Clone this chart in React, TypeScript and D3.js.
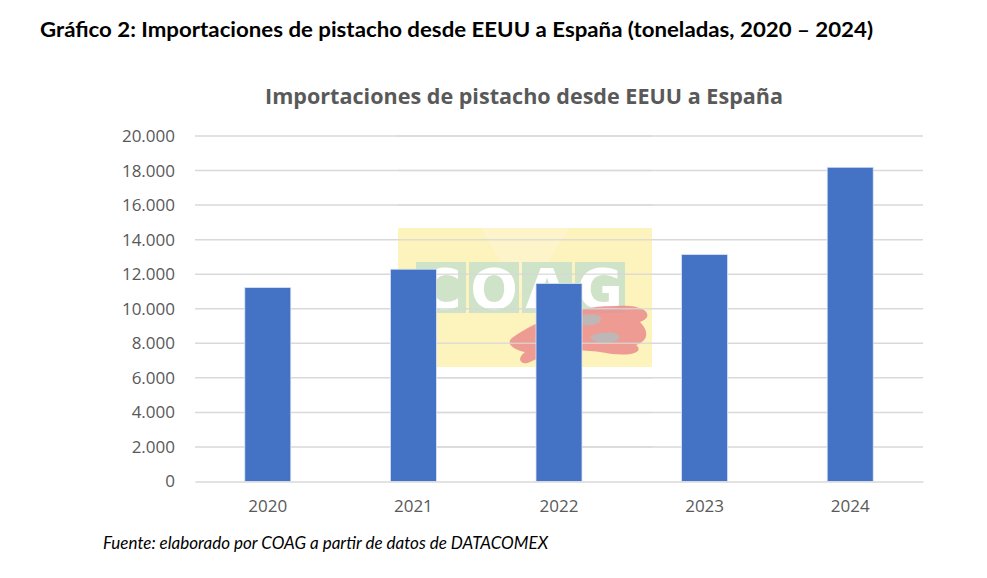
import React from 'react';
import { scaleBand, scaleLinear, select, axisLeft, axisBottom, format } from 'd3';

const years = ['2020', '2021', '2022', '2023', '2024'];
const toneladas = [11230, 12290, 11460, 13140, 18190];
const yTicks = [0, 2000, 4000, 6000, 8000, 10000, 12000, 14000, 16000, 18000, 20000];
const logoLetters = ['C', 'O', 'A', 'G'];

const dims = {
  width: 987,
  height: 578,
  left: 195,
  right: 923,
  top: 136,
  bottom: 481.5,
};

const fmt = (d: number) => format(',')(d).replace(/,/g, '.');

const App: React.FC = () => {
  const svgRef = React.useRef<SVGSVGElement>(null);

  const x = scaleBand()
    .domain(years)
    .range([dims.left, dims.right])
    .paddingInner(0.684)
    .paddingOuter(0.342);

  const y = scaleLinear().domain([0, 20000]).range([dims.bottom, dims.top]);

  React.useEffect(() => {
    const svg = select(svgRef.current);
    svg.selectAll('*').remove();

    // gridlines
    svg
      .append('g')
      .selectAll('line')
      .data(yTicks.filter(t => t > 0))
      .join('line')
      .attr('x1', dims.left)
      .attr('x2', dims.right)
      .attr('y1', d => y(d))
      .attr('y2', d => y(d))
      .attr('stroke', '#d9d9d9')
      .attr('stroke-width', 1.5);

    // watermark logo (COAG)
    const logo = svg.append('g').attr('opacity', 0.9);
    logo.append('rect').attr('x', 398).attr('y', 228).attr('width', 254).attr('height', 139).attr('fill', '#fdf4c4');
    logo.append('path').attr('d', 'M398,228 L480,228 L525,300 L570,228 L652,228 L652,367 L398,367 Z').attr('fill', '#fcefa8').attr('opacity', 0.5);
    const lg = logo.append('g');
    lg.selectAll('rect')
      .data(logoLetters)
      .join('rect')
      .attr('x', (_, i) => 416 + i * 53)
      .attr('y', 262)
      .attr('width', 50)
      .attr('height', 51)
      .attr('fill', '#c9e1c1');
    lg.selectAll('text')
      .data(logoLetters)
      .join('text')
      .attr('x', (_, i) => 441 + i * 53)
      .attr('y', 308)
      .attr('text-anchor', 'middle')
      .attr('font-family', 'DejaVu Sans, sans-serif')
      .attr('font-weight', 'bold')
      .attr('font-size', 56)
      .attr('fill', '#ffffff')
      .text(d => d);
    logo
      .append('path')
      .attr('d', 'M512,338 C540,318 580,304 630,306 C650,308 652,318 640,322 C648,330 650,340 636,345 C645,352 630,358 600,352 C570,348 550,352 530,362 C522,366 515,360 525,352 C515,350 505,344 512,338 Z')
      .attr('fill', '#e98080')
      .attr('opacity', 0.85);
    logo
      .append('path')
      .attr('d', 'M575,318 C590,312 605,314 600,322 C590,328 578,326 575,318 Z M590,336 C605,330 625,332 618,340 C605,345 592,343 590,336 Z')
      .attr('fill', '#b8b0b0');

    // gridlines over the logo region
    svg
      .append('g')
      .selectAll('line')
      .data(yTicks.filter(t => t > 0))
      .join('line')
      .attr('x1', 398)
      .attr('x2', 652)
      .attr('y1', d => y(d))
      .attr('y2', d => y(d))
      .attr('stroke', '#d9d9d9')
      .attr('stroke-width', 1.5)
      .attr('opacity', 0.8);

    // bars
    svg
      .append('g')
      .selectAll('rect')
      .data(years.map((yr, i) => ({ yr, v: toneladas[i] })))
      .join('rect')
      .attr('x', d => x(d.yr)!)
      .attr('y', d => y(d.v))
      .attr('width', x.bandwidth())
      .attr('height', d => y(0) - y(d.v))
      .attr('fill', '#4472c4')
      .attr('stroke', '#dbe4f5')
      .attr('stroke-width', 0.8);

    // y axis
    const yAxis = axisLeft(y).tickValues(yTicks).tickSize(0).tickPadding(20).tickFormat(d => fmt(d as number));
    const yg = svg.append('g').attr('transform', `translate(${dims.left},0)`).call(yAxis);
    yg.select('.domain').remove();
    yg.selectAll('text')
      .attr('font-family', 'Open Sans, sans-serif')
      .attr('font-size', 17)
      .attr('fill', '#595959');

    // x axis
    const xAxis = axisBottom(x).tickSize(0).tickPadding(18);
    const xg = svg.append('g').attr('transform', `translate(0,${dims.bottom})`).call(xAxis);
    xg.select('.domain').attr('stroke', '#d9d9d9').attr('stroke-width', 1.5);
    xg.selectAll('text')
      .attr('font-family', 'Open Sans, sans-serif')
      .attr('font-size', 17)
      .attr('fill', '#595959');

    // texts
    svg.append('text')
      .attr('x', 40).attr('y', 37)
      .attr('font-family', 'Lato, sans-serif').attr('font-weight', 'bold').attr('font-size', 21.5)
      .attr('textLength', 833).attr('lengthAdjust', 'spacingAndGlyphs')
      .attr('fill', '#000')
      .text('Gráfico 2: Importaciones de pistacho desde EEUU a España (toneladas, 2020 – 2024)');
    svg.append('text')
      .attr('x', 524).attr('y', 104).attr('text-anchor', 'middle')
      .attr('font-family', 'Open Sans, sans-serif').attr('font-weight', 'bold').attr('font-size', 20.5)
      .attr('textLength', 518).attr('lengthAdjust', 'spacingAndGlyphs')
      .attr('fill', '#595959')
      .text('Importaciones de pistacho desde EEUU a España');
    svg.append('text')
      .attr('x', 103).attr('y', 549)
      .attr('font-family', 'Lato, sans-serif').attr('font-style', 'italic').attr('font-size', 16.5)
      .attr('textLength', 445).attr('lengthAdjust', 'spacingAndGlyphs')
      .attr('fill', '#000')
      .text('Fuente: elaborado por COAG a partir de datos de DATACOMEX');
  }, []);

  return (
    <div style={{ margin: -8 }}>
      <svg ref={svgRef} width={dims.width} height={dims.height} style={{ display: 'block', background: '#fff' }} />
    </div>
  );
};

export default App;
